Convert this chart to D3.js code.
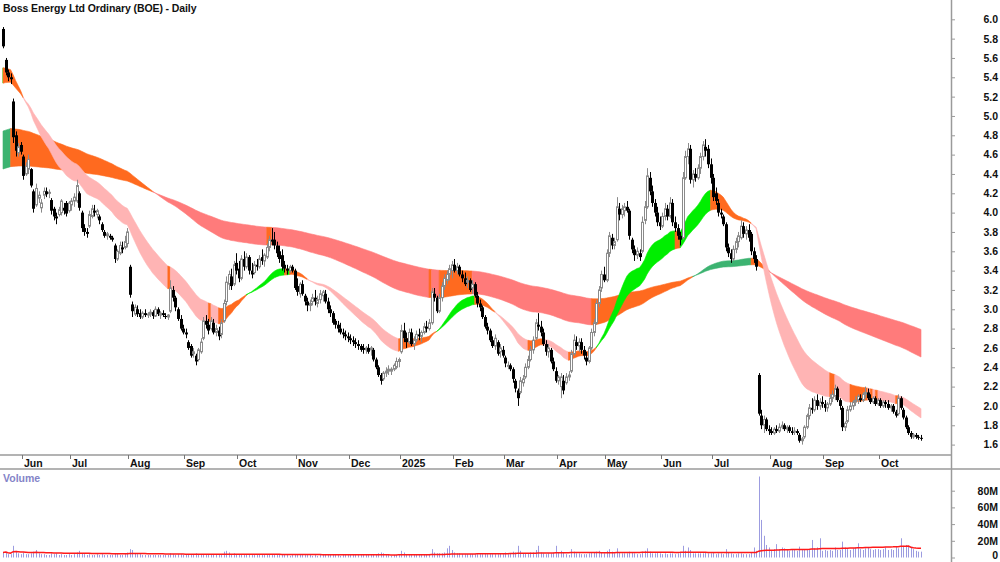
<!DOCTYPE html>
<html>
<head>
<meta charset="utf-8">
<script src="https://cdn.jsdelivr.net/npm/d3@7"></script>
<style>
  body { margin: 0; background: #fff; }
  svg { display: block; font-family: Arial, "Liberation Sans", sans-serif; }
</style>
</head>
<body>
<svg id="chart" width="1000" height="562"></svg>
<script>
// ---- data (daily bars, 23 May 2024 .. 24 Oct 2025, ASX trading days) ----
var startDate = "2024-05-23";
var holidays = ["2024-06-10", "2024-12-25", "2024-12-26", "2025-01-01", "2025-01-27",
  "2025-04-18", "2025-04-21", "2025-04-25", "2025-06-09"];

var open = [
  5.90,5.58,5.45,5.40,5.15,4.80,4.62,4.70,4.58,4.40, 4.45,4.45,4.22,4.08,4.15,4.05,4.18,4.22,4.20,4.13,
  4.04,3.96,3.98,4.00,4.05,4.10,4.02,4.08,4.12,4.12, 4.20,4.00,3.84,3.80,3.86,3.96,4.02,3.98,3.96,3.88,
  3.80,3.76,3.76,3.74,3.66,3.52,3.58,3.64,3.64,3.68, 3.44,3.05,2.95,3.00,2.96,2.92,2.96,2.94,2.95,2.97,
  2.93,3.00,2.94,2.96,2.93,2.92,2.98,3.20,3.12,3.00, 2.90,2.80,2.76,2.66,2.62,2.54,2.52,2.48,2.56,2.70,
  2.88,2.84,2.80,2.86,2.76,2.78,2.74,2.88,3.08,3.26, 3.34,3.26,3.48,3.42,3.32,3.52,3.44,3.54,3.40,3.38,
  3.46,3.44,3.54,3.50,3.54,3.64,3.72,3.72,3.66,3.60, 3.56,3.46,3.42,3.40,3.44,3.40,3.24,3.16,3.26,3.14,
  3.08,3.04,3.08,3.12,3.06,3.10,3.14,3.16,3.08,3.00, 2.96,2.88,2.84,2.80,2.76,2.74,2.72,2.70,2.68,2.66,
  2.64,2.62,2.60,2.58,2.60,2.58,2.58,2.48,2.40,2.32, 2.28,2.34,2.36,2.36,2.38,2.40,2.46,2.56,2.78,2.70,
  2.66,2.76,2.64,2.68,2.74,2.72,2.76,2.82,2.80,2.86, 3.16,3.12,2.98,3.12,3.24,3.30,3.36,3.40,3.46,3.40,
  3.44,3.36,3.32,3.28,3.30,3.22,3.26,3.14,3.06,3.02, 2.92,2.82,2.78,2.68,2.62,2.66,2.56,2.58,2.50,2.42,
  2.42,2.38,2.26,2.16,2.14,2.24,2.30,2.40,2.48,2.58, 2.70,2.84,2.82,2.76,2.64,2.56,2.58,2.46,2.36,2.26,
  2.20,2.26,2.24,2.30,2.36,2.54,2.66,2.62,2.66,2.58, 2.50,2.46,2.60,2.76,2.86,3.06,3.22,3.36,3.30,3.58,
  3.74,3.66,3.72,4.04,3.98,4.02,4.06,4.02,3.72,3.62, 3.56,3.58,3.60,3.92,4.06,4.36,4.22,4.10,4.00,3.90,
  3.86,3.96,4.04,3.96,4.10,3.90,3.84,3.76,3.74,4.36, 4.58,4.66,4.34,4.40,4.36,4.46,4.58,4.68,4.66,4.50,
  4.36,4.20,4.10,4.00,3.96,3.88,3.64,3.58,3.52,3.62, 3.70,3.74,3.86,3.78,3.82,3.78,3.60,3.52,2.32,1.90,
  1.80,1.86,1.76,1.74,1.72,1.76,1.74,1.78,1.80,1.76, 1.78,1.74,1.74,1.74,1.70,1.64,1.68,1.78,1.90,1.98,
  1.96,2.06,2.00,2.04,2.02,1.98,2.02,2.08,2.10,2.18, 2.06,1.98,1.78,1.84,1.96,2.00,2.04,2.06,2.08,2.06,
  2.12,2.14,2.08,2.04,2.08,2.02,2.06,2.00,2.04,2.02, 1.98,2.00,1.94,1.92,2.08,1.96,1.88,1.78,1.72,1.68,
  1.70,1.68,1.67
];
var high = [
  5.92,5.60,5.48,5.44,5.18,4.84,4.72,4.73,4.60,4.52, 4.60,4.46,4.24,4.30,4.22,4.14,4.26,4.26,4.24,4.15,
  4.06,4.00,4.06,4.14,4.10,4.12,4.12,4.15,4.20,4.34, 4.22,4.02,3.88,3.84,4.02,4.08,4.08,4.04,3.98,3.90,
  3.82,3.80,3.78,3.76,3.68,3.62,3.70,3.70,3.76,3.84, 3.46,3.08,3.05,3.04,3.00,2.98,3.00,2.97,3.00,2.99,
  3.03,3.02,2.98,2.99,2.96,2.95,3.30,3.24,3.14,3.02, 2.94,2.84,2.80,2.68,2.64,2.60,2.54,2.60,2.70,2.92,
  2.94,2.90,2.92,2.90,2.84,2.82,2.90,3.10,3.34,3.40, 3.42,3.50,3.58,3.50,3.56,3.60,3.58,3.56,3.48,3.50,
  3.52,3.56,3.62,3.58,3.68,3.76,3.84,3.80,3.70,3.66, 3.62,3.50,3.46,3.46,3.46,3.42,3.32,3.28,3.30,3.16,
  3.12,3.10,3.16,3.20,3.14,3.20,3.20,3.20,3.12,3.04, 2.98,2.90,2.88,2.86,2.80,2.78,2.76,2.74,2.72,2.70,
  2.68,2.64,2.64,2.62,2.64,2.62,2.60,2.50,2.42,2.34, 2.36,2.40,2.42,2.40,2.44,2.50,2.50,2.84,2.86,2.76,
  2.80,2.80,2.72,2.78,2.80,2.78,2.86,2.88,2.90,3.22, 3.22,3.14,3.16,3.28,3.36,3.40,3.46,3.50,3.52,3.48,
  3.46,3.40,3.38,3.34,3.32,3.30,3.28,3.18,3.10,3.04, 2.94,2.86,2.80,2.72,2.74,2.68,2.64,2.62,2.52,2.46,
  2.44,2.40,2.28,2.18,2.30,2.32,2.44,2.52,2.62,2.72, 2.90,2.96,2.88,2.80,2.68,2.64,2.60,2.50,2.40,2.32,
  2.34,2.32,2.34,2.36,2.58,2.74,2.72,2.70,2.70,2.62, 2.56,2.62,2.80,2.90,3.10,3.24,3.40,3.44,3.62,3.80,
  3.78,3.74,4.16,4.10,4.08,4.10,4.12,4.04,3.74,3.66, 3.64,3.62,3.96,4.12,4.46,4.42,4.28,4.14,4.06,3.96,
  4.00,4.10,4.08,4.16,4.14,3.96,3.88,3.80,4.42,4.64, 4.72,4.70,4.44,4.46,4.50,4.62,4.74,4.76,4.70,4.56,
  4.40,4.26,4.14,4.04,3.98,3.90,3.68,3.62,3.66,3.74, 3.80,3.92,3.90,3.86,3.88,3.80,3.64,3.56,2.34,1.96,
  1.90,1.88,1.80,1.78,1.78,1.80,1.82,1.84,1.82,1.80, 1.80,1.78,1.78,1.76,1.72,1.68,1.80,1.92,2.02,2.08,
  2.10,2.12,2.08,2.10,2.06,2.04,2.12,2.16,2.22,2.20, 2.08,2.00,1.84,2.00,2.04,2.06,2.10,2.12,2.12,2.14,
  2.20,2.18,2.12,2.10,2.10,2.08,2.08,2.06,2.06,2.06, 2.02,2.02,1.96,2.12,2.10,1.98,1.90,1.80,1.74,1.72,
  1.72,1.70,1.70
];
var low = [
  5.70,5.42,5.36,5.33,4.72,4.58,4.58,4.60,4.34,4.38, 4.40,4.26,4.00,4.06,4.10,4.00,4.14,4.16,4.15,3.98,
  3.92,3.88,3.96,3.97,3.98,3.96,4.00,4.02,4.06,4.10, 4.02,3.80,3.76,3.74,3.84,3.94,3.96,3.94,3.88,3.80,
  3.74,3.72,3.72,3.70,3.48,3.50,3.56,3.58,3.62,3.64, 3.12,2.92,2.93,2.92,2.90,2.90,2.92,2.91,2.92,2.90,
  2.92,2.93,2.90,2.92,2.90,2.89,2.96,3.08,2.98,2.88, 2.78,2.74,2.70,2.58,2.50,2.50,2.42,2.46,2.54,2.68,
  2.80,2.74,2.78,2.74,2.72,2.68,2.70,2.86,3.04,3.20, 3.20,3.24,3.36,3.28,3.30,3.40,3.42,3.36,3.32,3.36,
  3.40,3.42,3.46,3.44,3.52,3.60,3.66,3.62,3.54,3.48, 3.40,3.38,3.36,3.38,3.38,3.20,3.14,3.12,3.14,3.04,
  2.98,2.98,3.04,3.04,3.02,3.06,3.08,3.06,2.96,2.92, 2.84,2.80,2.76,2.74,2.70,2.68,2.66,2.64,2.62,2.60,
  2.58,2.56,2.54,2.54,2.54,2.52,2.46,2.38,2.30,2.22, 2.26,2.30,2.32,2.32,2.36,2.38,2.40,2.54,2.66,2.60,
  2.64,2.62,2.58,2.66,2.68,2.66,2.74,2.76,2.78,2.84, 3.08,2.96,2.96,3.08,3.20,3.26,3.30,3.32,3.38,3.36,
  3.34,3.28,3.24,3.22,3.18,3.16,3.12,3.02,2.98,2.90, 2.80,2.74,2.66,2.60,2.58,2.52,2.50,2.50,2.40,2.38,
  2.36,2.24,2.14,2.00,2.12,2.20,2.28,2.38,2.46,2.54, 2.68,2.78,2.72,2.62,2.52,2.50,2.44,2.36,2.24,2.22,
  2.08,2.12,2.22,2.26,2.34,2.52,2.58,2.56,2.54,2.48, 2.42,2.44,2.58,2.72,2.84,3.02,3.18,3.28,3.28,3.54,
  3.62,3.62,3.70,3.92,3.94,3.96,4.00,3.72,3.58,3.50, 3.52,3.50,3.58,3.88,4.04,4.18,4.06,3.96,3.86,3.82,
  3.84,3.92,3.92,3.94,3.86,3.80,3.72,3.66,3.72,4.34, 4.50,4.30,4.26,4.32,4.34,4.40,4.54,4.58,4.46,4.30,
  4.12,4.08,3.96,3.94,3.86,3.60,3.54,3.48,3.50,3.58, 3.64,3.72,3.74,3.72,3.70,3.56,3.48,3.40,1.90,1.76,
  1.72,1.74,1.70,1.70,1.70,1.72,1.72,1.76,1.74,1.72, 1.72,1.70,1.70,1.70,1.62,1.60,1.66,1.76,1.86,1.92,
  1.94,1.96,1.96,1.98,1.94,1.94,2.00,2.04,2.06,2.04, 1.96,1.74,1.74,1.82,1.94,1.96,2.00,2.02,2.04,2.04,
  2.08,2.06,2.02,2.02,2.00,2.00,1.98,1.98,1.98,1.96, 1.94,1.92,1.88,1.90,1.96,1.86,1.76,1.70,1.66,1.66,
  1.66,1.65,1.64
];
var close = [
  5.72,5.45,5.40,5.38,4.78,4.64,4.68,4.63,4.38,4.48, 4.55,4.28,4.04,4.25,4.18,4.10,4.22,4.19,4.21,4.02,
  3.96,3.94,4.03,4.12,4.02,3.99,4.10,4.12,4.16,4.28, 4.05,3.84,3.80,3.78,3.98,4.04,4.00,4.02,3.92,3.82,
  3.76,3.78,3.74,3.72,3.52,3.60,3.66,3.62,3.70,3.80, 3.15,2.98,3.02,2.95,2.92,2.96,2.94,2.95,2.97,2.93,
  3.00,2.95,2.96,2.94,2.92,2.94,3.22,3.12,3.02,2.90, 2.80,2.76,2.74,2.60,2.52,2.56,2.46,2.58,2.66,2.88,
  2.84,2.78,2.88,2.76,2.80,2.72,2.86,3.06,3.28,3.36, 3.24,3.46,3.40,3.32,3.52,3.44,3.54,3.40,3.36,3.46,
  3.44,3.52,3.50,3.56,3.64,3.72,3.70,3.66,3.58,3.52, 3.44,3.42,3.40,3.44,3.40,3.22,3.18,3.26,3.16,3.08,
  3.04,3.06,3.12,3.08,3.10,3.16,3.18,3.08,3.00,2.96, 2.86,2.84,2.80,2.76,2.74,2.72,2.70,2.68,2.66,2.64,
  2.62,2.58,2.58,2.60,2.56,2.60,2.48,2.40,2.32,2.26, 2.34,2.36,2.38,2.38,2.42,2.46,2.48,2.78,2.70,2.66,
  2.76,2.64,2.68,2.74,2.72,2.76,2.82,2.80,2.86,3.18, 3.12,2.98,3.12,3.24,3.32,3.36,3.42,3.46,3.40,3.44,
  3.36,3.32,3.26,3.30,3.20,3.26,3.14,3.06,3.02,2.92, 2.82,2.78,2.68,2.62,2.70,2.54,2.60,2.52,2.44,2.42,
  2.38,2.28,2.18,2.08,2.26,2.28,2.40,2.48,2.58,2.68, 2.86,2.82,2.76,2.64,2.56,2.60,2.46,2.38,2.26,2.30,
  2.30,2.16,2.30,2.32,2.54,2.68,2.62,2.66,2.58,2.52, 2.46,2.60,2.76,2.86,3.06,3.20,3.36,3.30,3.58,3.76,
  3.66,3.70,4.06,3.98,4.04,4.06,4.02,3.76,3.62,3.56, 3.60,3.54,3.90,4.06,4.38,4.22,4.10,4.00,3.90,3.86,
  3.96,4.04,3.96,4.10,3.90,3.84,3.76,3.72,4.36,4.58, 4.66,4.34,4.40,4.36,4.46,4.58,4.70,4.64,4.50,4.36,
  4.16,4.12,4.00,3.98,3.88,3.64,3.58,3.52,3.62,3.70, 3.76,3.86,3.78,3.82,3.74,3.60,3.52,3.44,1.92,1.80,
  1.86,1.76,1.74,1.72,1.76,1.74,1.78,1.80,1.76,1.78, 1.74,1.72,1.74,1.72,1.64,1.66,1.78,1.90,1.98,1.96,
  2.06,2.00,2.04,2.02,1.98,2.02,2.08,2.12,2.18,2.06, 2.00,1.78,1.82,1.96,2.00,2.04,2.06,2.10,2.06,2.12,
  2.14,2.08,2.04,2.08,2.02,2.06,2.00,2.04,2.02,1.98, 2.00,1.94,1.90,2.08,1.98,1.88,1.78,1.72,1.68,1.70,
  1.68,1.67,1.66
];
// volume in millions of shares
var volume = [
  6,7,4,4,14,8,5,4,6,4, 4,5,7,9,5,4,4,3,3,5, 4,5,3,4,3,3,4,3,4,6, 8,5,4,3,4,3,3,4,3,4,
  3,3,3,3,5,4,3,3,4,6, 10,9,5,4,4,3,3,3,3,3, 3,3,3,3,3,3,5,4,3,4, 4,3,3,4,4,3,5,4,3,4,
  3,3,3,3,3,3,4,7,8,6, 4,5,4,3,3,3,3,3,3,3, 3,3,3,3,3,4,4,3,3,3, 3,3,3,2,3,4,3,3,3,3,
  3,3,2,3,2,3,3,3,3,3, 3,3,3,2,3,3,3,3,3,3, 3,3,3,3,3,3,4,4,5,6, 5,3,4,2,3,3,4,8,6,4,
  4,4,3,3,4,3,3,4,4,10, 6,5,5,5,6,11,14,9,6,5, 5,4,4,4,4,4,4,4,4,4, 5,4,4,4,4,4,5,4,6,4,
  5,7,6,14,8,5,5,5,6,6, 9,14,6,5,4,5,5,6,14,6, 8,6,4,3,10,7,5,5,4,4, 4,5,6,6,7,8,6,5,8,10,
  7,5,11,6,5,5,5,7,6,5, 4,4,7,8,11,7,5,5,6,5, 4,5,4,5,5,4,5,6,14,8, 12,9,5,5,5,5,5,6,5,5,
  6,4,5,5,4,10,6,5,4,4, 5,5,4,4,4,6,12,8,97,45, 26,15,12,9,10,16,10,12,11,9, 8,9,9,8,13,10,9,10,10,21,
  11,12,23,8,9,8,9,8,12,9, 9,19,12,10,9,11,12,17,10,9, 11,12,10,9,10,10,9,10,12,9, 10,9,13,11,23,14,15,14,13,10,
  8,7,7
];

var monthNames = ["Jan", "Feb", "Mar", "Apr", "May", "Jun", "Jul", "Aug", "Sep", "Oct", "Nov", "Dec"];
var priceTicks = [1.6, 1.8, 2.0, 2.2, 2.4, 2.6, 2.8, 3.0, 3.2, 3.4, 3.6, 3.8, 4.0, 4.2, 4.4, 4.6, 4.8, 5.0, 5.2, 5.4, 5.6, 5.8, 6.0];
var volumeTicks = [0, 20, 40, 60, 80];

// moving-average ribbons: [fast, slow] periods and their values at the left edge
var shortPeriods = [25, 40], shortSeed = [5.48, 5.32];
var longPeriods = [130, 230], longSeed = [4.83, 4.44];
var volumeAvgPeriod = 60;

// ---- trading days ----
var dates = [];
var d = new Date(startDate + "T00:00:00Z");
while (dates.length < close.length) {
  var iso = d.toISOString().slice(0, 10);
  var wd = d.getUTCDay();
  if (wd !== 0 && wd !== 6 && holidays.indexOf(iso) < 0) dates.push(new Date(d));
  d.setUTCDate(d.getUTCDate() + 1);
}

function ema(values, period, seed) {
  var a = 2 / (period + 1), prev = seed;
  return values.map(function (v) { prev = prev + a * (v - prev); return prev; });
}

function bandStates(fast, slow, seedFast) {
  return fast.map(function (f, i) {
    var prev = i ? fast[i - 1] : seedFast;
    var rising = f >= prev;
    if (f >= slow[i]) return rising ? "up" : "mix";
    return rising ? "mix" : "down";
  });
}

var svg = d3.select("#chart");
var n = close.length;
var font = "bold 10.5px Arial, 'Liberation Sans', sans-serif";

var x = d3.scaleLinear().domain([0, n - 1]).range([3, 921]);
var y = d3.scaleLinear().domain([1.6, 6.0]).range([444.6, 19.3]);
var yv = d3.scaleLinear().domain([0, 80]).range([557.5, 490.7]);

// ---- ribbons ----
function drawRibbon(periods, seed, colors) {
  var fast = ema(close, periods[0], seed[0]);
  var slow = ema(close, periods[1], seed[1]);
  var st = bandStates(fast, slow, seed[0]);
  var area = d3.area()
    .x(function (i) { return x(i); })
    .y0(function (i) { return y(Math.min(fast[i], slow[i])); })
    .y1(function (i) { return y(Math.max(fast[i], slow[i])); });
  var g = svg.append("g");
  var s = 0;
  for (var i = 1; i <= n; i++) {
    if (i === n || st[i] !== st[s]) {
      var idx = d3.range(Math.max(0, s - 1), i);
      g.append("path")
        .attr("d", area(idx))
        .attr("fill", colors[st[s]])
        .attr("stroke", colors[st[s]])
        .attr("stroke-width", 0.6);
      s = i;
    }
  }
}

drawRibbon(longPeriods, longSeed, { up: "#3cb371", mix: "#ff6a1f", down: "#ff7b7b" });
drawRibbon(shortPeriods, shortSeed, { up: "#00ee00", mix: "#ff6a1f", down: "#ffb4b4" });

// ---- candles ----
var candles = svg.append("g");
close.forEach(function (c, i) {
  var cx = Math.round(x(i)) + 0.5;
  var up = c >= open[i];
  candles.append("line")
    .attr("x1", cx).attr("x2", cx)
    .attr("y1", y(high[i])).attr("y2", y(low[i]))
    .attr("stroke", up ? "#8a8a8a" : "#000")
    .attr("stroke-width", 1);
  var top = y(Math.max(c, open[i])), bot = y(Math.min(c, open[i]));
  if (up) {
    candles.append("rect")
      .attr("x", cx - 1).attr("y", top)
      .attr("width", 2).attr("height", Math.max(bot - top, 1))
      .attr("fill", "#fff").attr("stroke", "#8a8a8a").attr("stroke-width", 1);
  } else {
    candles.append("rect")
      .attr("x", cx - 1.5).attr("y", top)
      .attr("width", 3).attr("height", Math.max(bot - top, 1))
      .attr("fill", "#000");
  }
});

// ---- frame and axes ----
var axisColor = "#9a9a9a";
svg.append("line").attr("x1", 951.5).attr("x2", 951.5).attr("y1", 0).attr("y2", 562)
  .attr("stroke", axisColor).attr("stroke-width", 1.5);
svg.append("line").attr("x1", 0).attr("x2", 951).attr("y1", 455).attr("y2", 455)
  .attr("stroke", axisColor).attr("stroke-width", 1.5);
svg.append("line").attr("x1", 0).attr("x2", 1000).attr("y1", 469).attr("y2", 469)
  .attr("stroke", axisColor).attr("stroke-width", 1.5);

var priceAxis = d3.axisRight(y).tickValues(priceTicks).tickSize(3)
  .tickFormat(d3.format(".1f"));
var pa = svg.append("g").attr("transform", "translate(952,0)").call(priceAxis);
pa.select(".domain").remove();
pa.selectAll(".tick line").attr("stroke", axisColor);
pa.selectAll(".tick text").attr("text-anchor", "end").attr("x", 46)
  .style("font", font).attr("fill", "#111");

var volAxis = d3.axisRight(yv).tickValues(volumeTicks).tickSize(3)
  .tickFormat(function (v) { return v ? v + "M" : "0"; });
var va = svg.append("g").attr("transform", "translate(952,0)").call(volAxis);
va.select(".domain").remove();
va.selectAll(".tick line").attr("stroke", axisColor);
va.selectAll(".tick text").attr("text-anchor", "end").attr("x", 46)
  .attr("dy", function (v) { return v ? "0.32em" : "0.1em"; })
  .style("font", font).attr("fill", "#111");

// month ticks
var months = svg.append("g");
dates.forEach(function (dt, i) {
  if (i === 0 || dt.getUTCMonth() === dates[i - 1].getUTCMonth()) return;
  var mx = Math.round(x(i)) + 1.5;
  months.append("line").attr("x1", mx).attr("x2", mx).attr("y1", 455).attr("y2", 459)
    .attr("stroke", "#777");
  months.append("text").attr("x", mx + 1.5).attr("y", 466.5)
    .style("font", font).attr("fill", "#111")
    .text(dt.getUTCMonth() === 0 ? String(dt.getUTCFullYear()) : monthNames[dt.getUTCMonth()]);
});

// ---- volume ----
var vg = svg.append("g");
volume.forEach(function (v, i) {
  var cx = Math.round(x(i)) + 0.5;
  vg.append("line").attr("x1", cx).attr("x2", cx).attr("y1", yv(0)).attr("y2", yv(v))
    .attr("stroke", "#9c9ce0").attr("stroke-width", 1);
});
var volAvg = volume.map(function (v, i) {
  return d3.mean(volume.slice(Math.max(0, i - volumeAvgPeriod + 1), i + 1));
});
svg.append("path")
  .attr("d", d3.line().x(function (v, i) { return x(i); }).y(function (v) { return yv(v); })(volAvg))
  .attr("fill", "none").attr("stroke", "#ff1a1a").attr("stroke-width", 1.5);

// ---- labels ----
svg.append("text").attr("x", 3).attr("y", 12)
  .style("font", font).style("letter-spacing", "-0.1px").attr("fill", "#111")
  .text("Boss Energy Ltd Ordinary (BOE) - Daily");
svg.append("text").attr("x", 3).attr("y", 481.5)
  .style("font", font).attr("fill", "#8484c8")
  .text("Volume");
</script>
</body>
</html>
